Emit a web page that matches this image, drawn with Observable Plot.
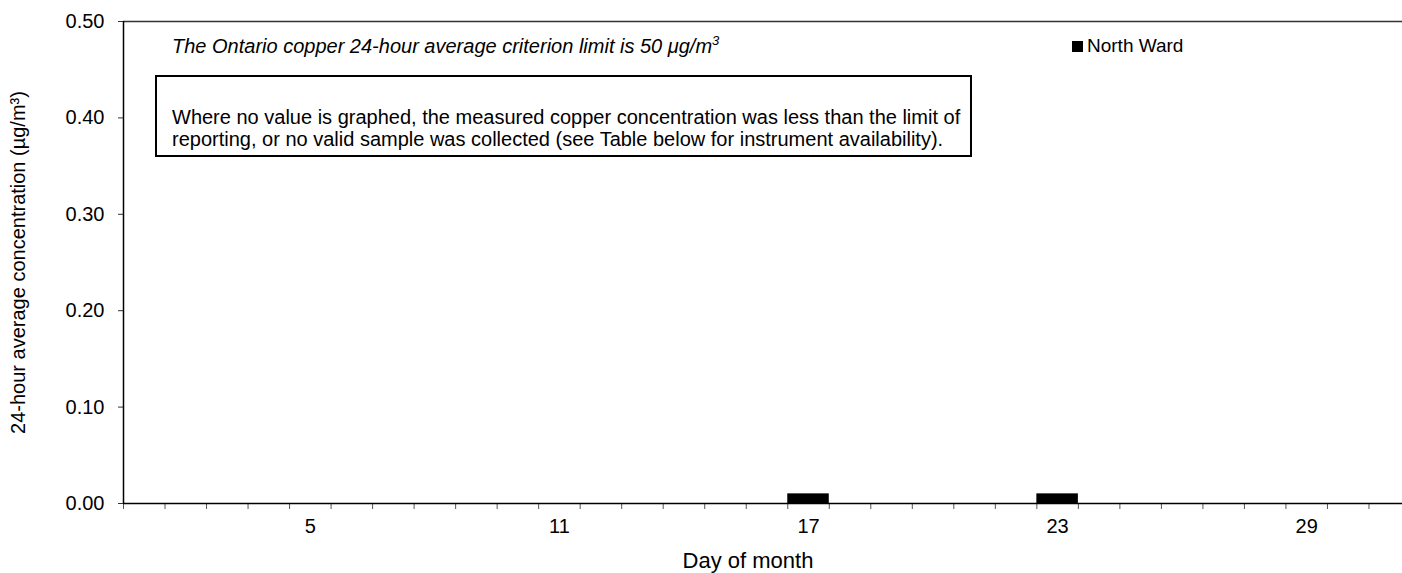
<!DOCTYPE html>
<html>
<head>
<meta charset="utf-8">
<script src="https://cdn.jsdelivr.net/npm/d3@7"></script>
<script src="https://cdn.jsdelivr.net/npm/@observablehq/plot@0.6"></script>
<style>
  html, body { margin: 0; padding: 0; background: white; overflow: hidden; }
  #wrap { position: relative; width: 1402px; height: 573px; font-family: "Liberation Sans", Arial, sans-serif; color: #000; }
  #note1 { position: absolute; left: 172px; top: 34px; font-size: 20px; line-height: 24px; font-style: italic; white-space: nowrap; }
  #note1 sup { font-size: 13px; line-height: 0; }
  #box { position: absolute; left: 155px; top: 75px; width: 813px; height: 78px; border: 2px solid #000; font-size: 20px; line-height: 22px; box-sizing: content-box; }
  #box div { position: absolute; left: 15px; top: 29px; white-space: nowrap; }
  #legend { position: absolute; left: 1072px; top: 34px; font-size: 19px; line-height: 24px; white-space: nowrap; display: flex; align-items: center; }
  #legend span.sw { display: inline-block; width: 11px; height: 11px; background: #000; margin-right: 4px; }
</style>
</head>
<body>
<div id="wrap">
  <div id="chart"></div>
  <div id="note1">The Ontario copper 24-hour average criterion limit is 50 μg/m<sup>3</sup></div>
  <div id="box"><div>Where no value is graphed, the measured copper concentration was less than the limit of<br>reporting, or no valid sample was collected (see Table below for instrument availability).</div></div>
  <div id="legend"><span class="sw"></span>North Ward</div>
</div>
<script>
// Days of the month (categories)
const days = [1,2,3,4,5,6,7,8,9,10,11,12,13,14,15,16,17,18,19,20,21,22,23,24,25,26,27,28,29,30,31];
// North Ward 24-hour average copper concentration (µg/m³); null = not graphed
const northWard = [null,null,null,null,null,null,null,null,null,null,null,null,null,null,null,null,0.01,null,null,null,null,null,0.01,null,null,null,null,null,null,null,null];
// Tick labels
const xTickLabels = [5, 11, 17, 23, 29];
const yTicks = [0, 0.1, 0.2, 0.3, 0.4, 0.5];

const data = days.map((d, i) => ({day: d, value: northWard[i]})).filter(d => d.value != null);
const boundaries = days.map(d => d - 0.5);

const chart = Plot.plot({
  width: 1402,
  height: 573,
  marginLeft: 123,
  marginRight: -8,
  marginTop: 21,
  marginBottom: 70,
  style: {fontFamily: "Liberation Sans, Arial, sans-serif", fontSize: "20px", color: "#000", background: "white"},
  x: {type: "linear", domain: [0.5, 31.5]},
  y: {domain: [0, 0.5]},
  marks: [
    Plot.rectY(data, {x1: d => d.day - 0.5, x2: d => d.day + 0.5, y: "value", fill: "#000"}),
    Plot.ruleY([0.5], {stroke: "#333", strokeWidth: 1.5}),
    Plot.axisY({ticks: yTicks, tickFormat: d3.format(".2f"), tickSize: 5, tickPadding: 14, label: null, stroke: "#333", fontSize: 20}),
    Plot.axisX({ticks: boundaries, tickFormat: () => "", tickSize: 6, label: null, stroke: "#555"}),
    Plot.axisX({ticks: xTickLabels, tickSize: 0, tickPadding: 15, label: null, fontSize: 20}),
    Plot.ruleX([0.5], {stroke: "#000", strokeWidth: 1.5}),
    Plot.ruleY([0], {stroke: "#000", strokeWidth: 1.5}),
    Plot.text(["Day of month"], {frameAnchor: "bottom", dy: 64, dx: -19, fontSize: 22}),
    Plot.text(["24-hour average concentration (µg/m³)"], {frameAnchor: "left", dx: -105, rotate: -90, textAnchor: "middle", fontSize: 20})
  ]
});
document.getElementById("chart").appendChild(chart);
</script>
</body>
</html>
